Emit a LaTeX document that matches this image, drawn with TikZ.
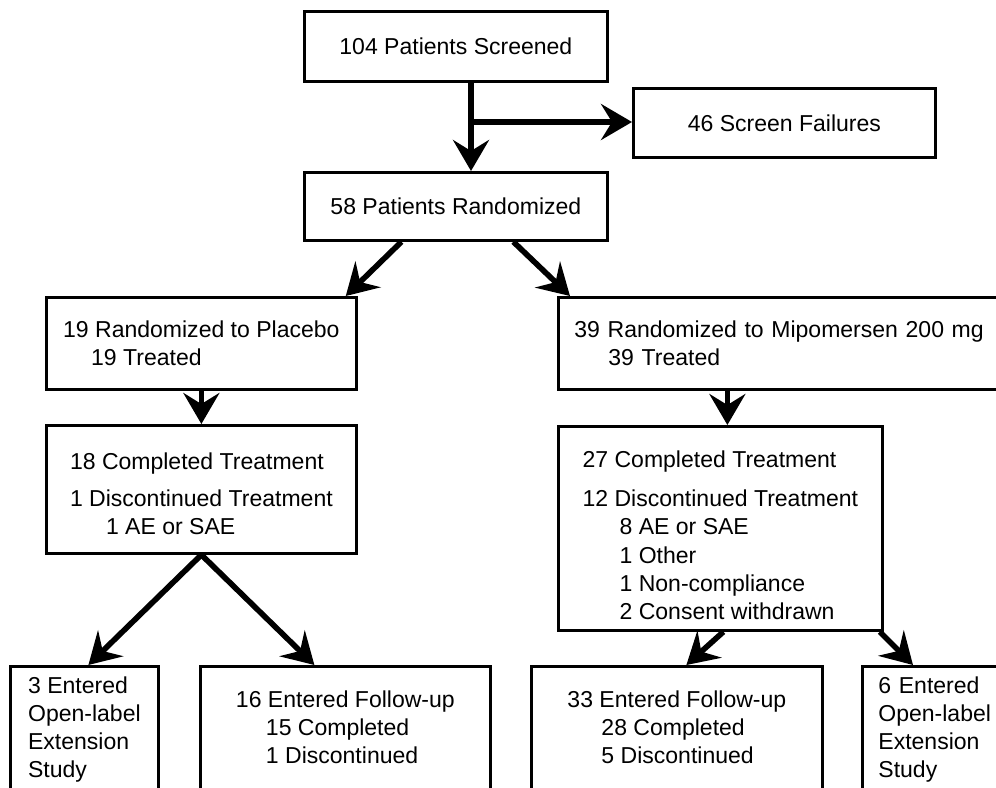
\documentclass[tikz,border=0pt]{standalone}
\usepackage{fontspec}
\setmainfont{Liberation Sans}
\usetikzlibrary{arrows.meta}

\begin{document}
\begin{tikzpicture}[x=0.02cm, y=-0.02cm,
    box/.style={draw, line width=1.6pt, anchor=north west, align=left,
      font=\fontsize{13.1pt}{16pt}\selectfont},
    flow/.style={line width=3.2pt,
      -{Stealth[length=0.62cm, width=0.72cm, inset=0.22cm]}}]
  \useasboundingbox (0,0) rectangle (996,787);
  \clip (0,0) rectangle (996,787);
  % Screening and randomization
  \node[box, align=center, minimum width=6.06cm, minimum height=1.4cm] (scr) at (303,10) {104 Patients Screened};
  \node[box, align=center, minimum width=6.04cm, minimum height=1.38cm] (fail) at (632,87) {46 Screen Failures};
  \node[box, align=center, minimum width=6.06cm, minimum height=1.36cm] (rand) at (303,171) {58 Patients Randomized};
  % Treatment arms
  \node[box, minimum width=6.2cm, minimum height=1.84cm] (plac) at (45,296)
    {19 Randomized to Placebo\\\hspace*{0.56cm}19 Treated};
  \node[box, text width=8.9cm, inner xsep=0.32cm, minimum height=1.84cm] (mipo) at (557,296)
    {39 Randomized to Mipomersen 200 mg\\\hspace*{0.68cm}39 Treated};
  \node[box, minimum width=6.2cm, minimum height=2.56cm] (placdone) at (45,424)
    {\rule{0pt}{0.52cm}18 Completed Treatment\\[0.18cm]1 Discontinued Treatment\\\hspace*{0.72cm}1 AE or SAE};
  \node[box, minimum width=6.48cm, minimum height=4.08cm] (mipodone) at (557,425)
    {\rule{0pt}{0.6cm}27 Completed Treatment\\[0.23cm]12 Discontinued Treatment\\
     \hspace*{0.74cm}8 AE or SAE\\\hspace*{0.74cm}1 Other\\
     \hspace*{0.74cm}1 Non-compliance\\\hspace*{0.74cm}2 Consent withdrawn};
  % Follow-up and extension (cut off at the bottom)
  \node[box, minimum width=2.96cm, inner ysep=0.2cm, text depth=2.5cm] (placole) at (9,665)
    {3 Entered\\Open-label\\Extension\\Study};
  \node[box, minimum width=5.8cm, inner ysep=0.48cm, text depth=2.5cm] (placfu) at (199,665)
    {16 Entered Follow-up\\\hspace*{0.6cm}15 Completed\\\hspace*{0.6cm}1 Discontinued};
  \node[box, minimum width=5.82cm, inner ysep=0.48cm, text depth=2.5cm] (mipofu) at (530,665)
    {33 Entered Follow-up\\\hspace*{0.68cm}28 Completed\\\hspace*{0.68cm}5 Discontinued};
  \node[box, text width=3cm, inner xsep=0.32cm, inner ysep=0.2cm, text depth=2.5cm] (mipoole) at (861,665)
    {6 Entered\\Open-label\\Extension\\Study};
  % Arrows
  \coordinate (split) at (471,122);
  \draw[flow] (scr.south -| split) -- (rand.north -| split);
  \draw[flow] (split) -- (fail.west |- split);
  \draw[flow] ([xshift=-1.09cm]rand.south) -- ([xshift=-0.24cm]plac.north east);
  \draw[flow] ([xshift=1.15cm]rand.south) -- ([xshift=0.26cm]mipo.north west);
  \draw[flow] (plac.south) -- (placdone.north);
  \draw[flow] ([xshift=0.14cm]mipodone.north |- mipo.south) -- ([xshift=0.14cm]mipodone.north);
  \draw[flow] (placdone.south) -- ([xshift=0.08cm]placole.north);
  \draw[flow] (placdone.south) -- ([xshift=-0.62cm]placfu.north);
  \draw[flow] ([xshift=0.06cm]mipodone.south) -- ([xshift=0.19cm]mipofu.north);
  \draw[flow] ([xshift=-0.08cm]mipodone.south east) -- ([xshift=1.04cm]mipoole.north west);
\end{tikzpicture}
\end{document}
